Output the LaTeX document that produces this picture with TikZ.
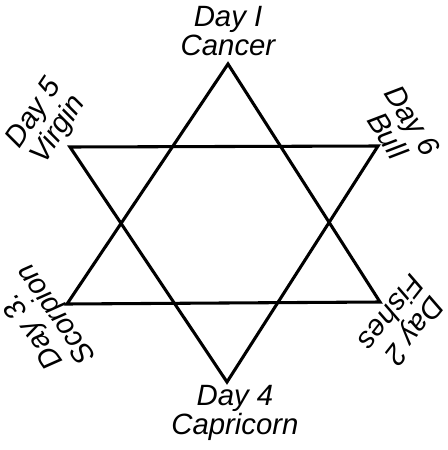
\documentclass[tikz,border=0pt]{standalone}
\usepackage{fontspec}
\setmainfont{Liberation Sans}
\begin{document}
\begin{tikzpicture}[x=0.75pt,y=-0.75pt,
  star/.style={line width=2.3pt,line join=miter,black},
  lbl/.style={align=center,inner sep=0pt,font=\fontsize{22}{22}\selectfont\itshape}]
\useasboundingbox (0,0) rectangle (448,450);
\coordinate (T) at (228,64);
\coordinate (BL) at (67,304);
\coordinate (BR) at (380,302);
\coordinate (TL) at (70,147);
\coordinate (TR) at (378,146);
\coordinate (B) at (227,382);
\draw[star] (T) -- (BL) -- (BR) -- cycle;
\draw[star] (TL) -- (TR) -- (B) -- cycle;
\node[lbl] (l1) at (228,31) {Day I\\Cancer};
\node[lbl] (l4) at (235,413) {Day 4\\Capricorn};
\node[lbl,rotate=56] (l5) at (47,122) {Day 5\\Virgin};
\node[lbl,rotate=-58] (l6) at (400,128) {Day 6\\Bull};
\node[lbl,rotate=125] (l3) at (45,322) {Day 3.\\Scorpion};
\node[lbl,rotate=-128] (l2) at (403,322) {Day 2\\Fishes};
\end{tikzpicture}
\end{document}
